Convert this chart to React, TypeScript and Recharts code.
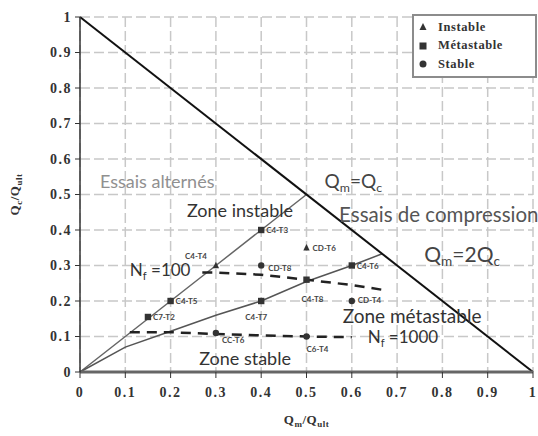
import React from "react"
import {
  ComposedChart,
  Line,
  Scatter,
  XAxis,
  YAxis,
  CartesianGrid,
} from "recharts"

const ticks = [0, 0.1, 0.2, 0.3, 0.4, 0.5, 0.6, 0.7, 0.8, 0.9, 1]

// limit lines
const diagonal = [
  { x: 0, y: 1 },
  { x: 1, y: 0 },
]
const upperBound = [
  { x: 0, y: 0 },
  { x: 0.1, y: 0.1 },
  { x: 0.2, y: 0.2 },
  { x: 0.3, y: 0.3 },
  { x: 0.4, y: 0.4 },
  { x: 0.5, y: 0.5 },
]
const lowerBound = [
  { x: 0, y: 0 },
  { x: 0.1, y: 0.07 },
  { x: 0.2, y: 0.115 },
  { x: 0.3, y: 0.16 },
  { x: 0.4, y: 0.2 },
  { x: 0.5, y: 0.255 },
  { x: 0.6, y: 0.3 },
  { x: 0.667, y: 0.333 },
]
const nf100 = [
  { x: 0.27, y: 0.28 },
  { x: 0.3, y: 0.28 },
  { x: 0.4, y: 0.274 },
  { x: 0.5, y: 0.26 },
  { x: 0.6, y: 0.245 },
  { x: 0.665, y: 0.232 },
]
const nf1000 = [
  { x: 0.11, y: 0.112 },
  { x: 0.2, y: 0.112 },
  { x: 0.3, y: 0.107 },
  { x: 0.4, y: 0.103 },
  { x: 0.5, y: 0.1 },
  { x: 0.6, y: 0.098 },
]

// tests
const instable = [
  { x: 0.3, y: 0.3, name: "C4-T4" },
  { x: 0.5, y: 0.35, name: "CD-T6" },
]
const metastable = [
  { x: 0.4, y: 0.4, name: "C4-T3" },
  { x: 0.5, y: 0.26, name: "C4-T8" },
  { x: 0.6, y: 0.3, name: "C4-T6" },
  { x: 0.2, y: 0.2, name: "C4-T5" },
  { x: 0.15, y: 0.155, name: "C7-T2" },
  { x: 0.4, y: 0.2, name: "C4-T7" },
]
const stable = [
  { x: 0.4, y: 0.3, name: "CD-T8" },
  { x: 0.6, y: 0.2, name: "CD-T4" },
  { x: 0.3, y: 0.11, name: "CC-T6" },
  { x: 0.5, y: 0.1, name: "C6-T4" },
]

// text on the plot
const notes = [
  { x: 0.044, y: 0.518, text: "Essais alternés" },
  { x: 0.54, y: 0.518, text: "Q_m=Q_c" },
  { x: 0.236, y: 0.437, text: "Zone instable" },
  { x: 0.572, y: 0.423, text: "Essais de compression" },
  { x: 0.76, y: 0.31, text: "Q_m=2Q_c" },
  { x: 0.11, y: 0.27, text: "N_f =100" },
  { x: 0.58, y: 0.138, text: "Zone métastable" },
  { x: 0.635, y: 0.082, text: "N_f =1000" },
  { x: 0.263, y: 0.02, text: "Zone stable" },
]

const noteStyle: Record<string, { size: number; color: string }> = {
  "Essais alternés": { size: 18, color: "#909090" },
  "Q_m=Q_c": { size: 19, color: "#444" },
  "Zone instable": { size: 18, color: "#333" },
  "Essais de compression": { size: 20.5, color: "#555" },
  "Q_m=2Q_c": { size: 21, color: "#444" },
  "N_f =100": { size: 17, color: "#333" },
  "Zone métastable": { size: 19, color: "#333" },
  "N_f =1000": { size: 17, color: "#333" },
  "Zone stable": { size: 18, color: "#333" },
}

const tagPlace: Record<string, [number, number, "start" | "middle"]> = {
  "C4-T4": [-20, -7, "middle"],
  "C4-T3": [5, 3, "start"],
  "CD-T6": [6, 3, "start"],
  "CD-T8": [7, 5, "start"],
  "C4-T8": [6, 22, "middle"],
  "C4-T6": [5, 3, "start"],
  "CD-T4": [6, 2, "start"],
  "C4-T5": [5, 3, "start"],
  "C7-T2": [5, 3, "start"],
  "C4-T7": [-5, 19, "middle"],
  "CC-T6": [6, 10, "start"],
  "C6-T4": [0, 15, "start"],
}

const SANS = "Lato, 'Open Sans', sans-serif"
const SERIF = "'Liberation Serif', 'DejaVu Serif', serif"
const MARK = "#333"

function Rich({ text }: { text: string }) {
  const parts = text.split(/(_\w)/).filter((p) => p !== "")
  return (
    <>
      {parts.map((p, i) =>
        p.startsWith("_") ? (
          <tspan key={i} dy={4} fontSize="65%">
            {p.slice(1)}
          </tspan>
        ) : i > 0 && parts[i - 1].startsWith("_") ? (
          <tspan key={i} dy={-4}>
            {p}
          </tspan>
        ) : (
          <tspan key={i}>{p}</tspan>
        )
      )}
    </>
  )
}

function Glyph({ kind, cx, cy, s = 3.2 }: { kind: string; cx: number; cy: number; s?: number }) {
  if (kind === "tri")
    return (
      <polygon
        points={`${cx},${cy - s - 0.5} ${cx - s},${cy + s - 0.5} ${cx + s},${cy + s - 0.5}`}
        fill={MARK}
      />
    )
  if (kind === "sq") return <rect x={cx - s} y={cy - s} width={2 * s} height={2 * s} fill={MARK} />
  return <circle cx={cx} cy={cy} r={s} fill={MARK} />
}

const pointShape = (kind: string) => (props: any) => {
  const { cx, cy, payload } = props
  const [dx, dy, anchor] = tagPlace[payload.name] || [5, 3, "start"]
  return (
    <g>
      <Glyph kind={kind} cx={cx} cy={cy} />
      <text
        x={cx + dx}
        y={cy + dy}
        textAnchor={anchor}
        fontSize={8}
        fontWeight="bold"
        fontFamily={SANS}
        fill="#444"
      >
        {payload.name}
      </text>
    </g>
  )
}

const noteShape = (props: any) => {
  const { cx, cy, payload } = props
  const st = noteStyle[payload.text]
  return (
    <text x={cx} y={cy} fontSize={st.size} fontFamily={SANS} fill={st.color}>
      <Rich text={payload.text} />
    </text>
  )
}

const YTitle = ({ viewBox }: any) => {
  const x = 19
  const y = viewBox.y + viewBox.height / 2
  return (
    <text
      transform={`translate(${x},${y}) rotate(-90)`}
      textAnchor="middle"
      fontSize={13}
      fontWeight="bold"
      fontFamily={SERIF}
      letterSpacing={0.5}
      fill="#333"
    >
      Q<tspan dy={3} fontSize={9}>c</tspan>
      <tspan dy={-3}>/Q</tspan>
      <tspan dy={3} fontSize={9}>ult</tspan>
    </text>
  )
}

const XTitle = ({ viewBox }: any) => {
  const x = viewBox.x + viewBox.width / 2
  return (
    <text
      x={x}
      y={424}
      textAnchor="middle"
      fontSize={13}
      fontWeight="bold"
      fontFamily={SERIF}
      letterSpacing={0.5}
      fill="#333"
    >
      Q<tspan dy={3} fontSize={9}>m</tspan>
      <tspan dy={-3}>/Q</tspan>
      <tspan dy={3} fontSize={9}>ult</tspan>
    </text>
  )
}

function LegendBox() {
  const items = [
    { kind: "tri", label: "Instable" },
    { kind: "sq", label: "Métastable" },
    { kind: "dot", label: "Stable" },
  ]
  return (
    <div
      style={{
        position: "absolute",
        left: 412,
        top: 14,
        width: 121,
        height: 60,
        border: "2px solid #8c8c8c",
        background: "#fff",
      }}
    >
      {items.map((it, i) => (
        <div
          key={it.label}
          style={{ position: "absolute", left: 2, top: 3 + i * 18.5, height: 16, display: "flex", alignItems: "center" }}
        >
          <svg width={14} height={14}>
            <Glyph kind={it.kind} cx={7} cy={7} s={3.5} />
          </svg>
          <span
            style={{
              marginLeft: 8,
              fontFamily: SERIF,
              fontWeight: "bold",
              fontSize: 12.5,
              letterSpacing: 0.6,
              color: "#333",
            }}
          >
            {it.label}
          </span>
        </div>
      ))}
    </div>
  )
}

export default function App() {
  const tickStyle = { fontSize: 14, fontWeight: "bold", fontFamily: SERIF, fill: "#333", letterSpacing: 1.5 }
  return (
    <div style={{ position: "absolute", left: 0, top: 0, width: 538, height: 436, background: "#fff" }}>
      <ComposedChart width={538} height={436} margin={{ top: 17, right: 5, left: 0, bottom: 24 }}>
        <CartesianGrid stroke="#c8c8c8" strokeWidth={1.5} strokeDasharray="10 4" />
        <XAxis
          type="number"
          dataKey="x"
          domain={[0, 1]}
          ticks={ticks}
          interval={0}
          height={40}
          tickSize={6}
          tickMargin={9}
          tick={tickStyle}
          tickFormatter={(v) => String(v)}
          axisLine={{ stroke: "#666", strokeWidth: 3 }}
          tickLine={{ stroke: "#333" }}
          label={<XTitle />}
        />
        <YAxis
          type="number"
          dataKey="y"
          domain={[0, 1]}
          ticks={ticks}
          interval={0}
          width={80}
          tickSize={5}
          tickMargin={3}
          tick={tickStyle}
          tickFormatter={(v) => String(v)}
          axisLine={{ stroke: "#333", strokeWidth: 1.5 }}
          tickLine={{ stroke: "#333" }}
          label={<YTitle />}
        />
        <Line data={upperBound} dataKey="y" stroke="#666" strokeWidth={1.5} dot={false} isAnimationActive={false} />
        <Line data={lowerBound} dataKey="y" stroke="#555" strokeWidth={1.5} dot={false} isAnimationActive={false} />
        <Line data={nf100} dataKey="y" stroke="#222" strokeWidth={2.5} strokeDasharray="10 7" dot={false} isAnimationActive={false} />
        <Line data={nf1000} dataKey="y" stroke="#222" strokeWidth={2.5} strokeDasharray="10 7" dot={false} isAnimationActive={false} />
        <Line data={diagonal} dataKey="y" stroke="#111" strokeWidth={2} dot={false} isAnimationActive={false} />
        <Scatter data={notes} dataKey="y" shape={noteShape} isAnimationActive={false} />
        <Scatter data={instable} dataKey="y" shape={pointShape("tri")} isAnimationActive={false} />
        <Scatter data={metastable} dataKey="y" shape={pointShape("sq")} isAnimationActive={false} />
        <Scatter data={stable} dataKey="y" shape={pointShape("dot")} isAnimationActive={false} />
      </ComposedChart>
      <LegendBox />
    </div>
  )
}
